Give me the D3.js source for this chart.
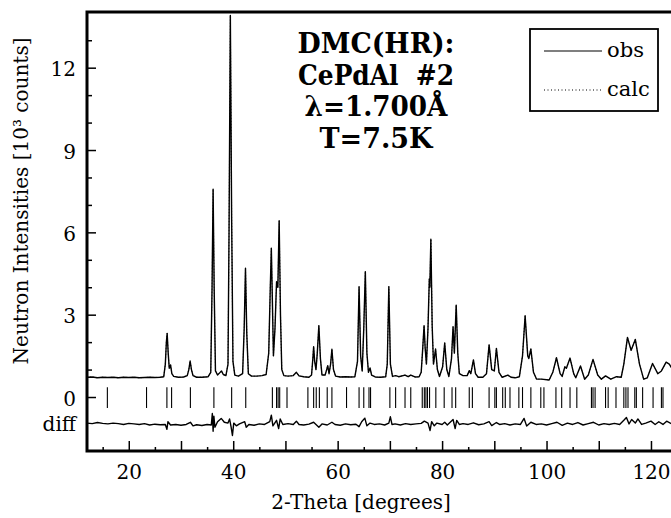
<!DOCTYPE html>
<html><head><meta charset="utf-8">
<script src="https://cdn.jsdelivr.net/npm/d3@7/dist/d3.min.js"></script>
<style>
html,body{margin:0;padding:0;background:#fff;}
svg text{font-family:"DejaVu Serif","Liberation Serif","Tinos","Times New Roman",serif;fill:#000;}
</style></head>
<body><svg id="c" width="671" height="518"></svg>
<script>
// ---- data (2-theta in degrees, intensity in 10^3 counts) ----
const obsAngle = [12,13,14,15,16,17,18,19,20,21,22,23,24,25,26,26.7,
27.0,27.2,27.35,27.55,27.75,28.0,28.25,28.6,29.5,30.5,31.2,31.5,31.75,32.0,32.3,33,34,35.2,
35.7,35.95,36.15,36.35,36.6,37.0,37.4,37.75,38.1,38.6,39.0,39.2,39.45,39.7,39.95,40.3,41.0,
41.8,42.1,42.35,42.6,42.9,43.5,44.5,45.5,46.3,46.8,47.1,47.3,47.5,47.7,48.0,48.3,48.55,48.8,49.05,49.3,49.7,
50.5,51.5,52.1,52.6,53.5,54.5,55.0,55.25,55.4,55.6,55.85,56.1,56.4,56.7,57.0,57.6,57.9,58.1,58.35,58.65,58.9,59.2,59.6,
60.5,61.5,62.5,63.3,63.8,64.1,64.4,64.7,65.0,65.3,65.6,65.9,66.2,66.5,67.2,68.2,69.2,69.5,69.8,70.1,70.5,
71.1,71.7,72.9,73.5,74.0,74.8,75.6,76.0,76.3,76.55,76.75,77.0,77.3,77.55,77.65,77.85,78.1,78.35,78.75,79.1,79.5,
80.1,80.5,80.9,81.3,81.8,82.1,82.35,82.7,83.0,83.3,84.0,84.8,85.2,85.5,86.0,86.4,86.9,87.8,88.5,89.0,89.5,90.0,90.4,90.9,
91.5,92.6,93.2,94.0,94.8,95.4,95.9,96.4,96.6,97.0,97.5,98.1,99.0,100.5,101.2,101.9,102.6,103.0,103.5,103.8,104.5,105.2,105.6,
106.5,107.3,108.0,108.9,109.8,110.5,111.3,112.3,113.4,114.3,114.8,115.5,116.2,117.0,117.8,118.6,119.3,120.3,121.3,122.0,122.9,123.5,124.5,125.5];
const obsValue = [0.72,0.73,0.70,0.72,0.71,0.72,0.70,0.72,0.71,0.72,0.70,0.71,0.72,0.71,0.72,0.74,
1.2,2.0,2.32,1.6,1.05,1.17,0.85,0.75,0.72,0.73,0.78,1.0,1.31,1.0,0.78,0.72,0.72,0.74,
0.9,4.0,7.57,4.0,0.95,0.8,0.88,0.95,0.82,0.78,1.2,6.0,13.9,6.5,1.3,0.8,0.76,
0.85,2.5,4.69,2.3,0.85,0.76,0.76,0.78,0.82,1.6,4.0,5.42,3.5,1.5,2.5,4.2,4.0,6.42,3.0,1.0,0.78,
0.76,0.78,0.9,0.77,0.74,0.72,0.8,1.4,1.83,1.3,1.0,1.6,2.6,1.4,0.8,0.8,1.0,1.14,0.85,1.2,1.74,1.0,0.76,
0.73,0.74,0.73,0.74,1.3,4.02,1.5,0.95,2.5,4.57,1.6,0.9,1.06,0.8,0.73,0.72,0.74,1.2,4.02,1.2,0.75,
0.78,0.74,0.8,0.74,0.8,0.73,0.74,0.9,1.8,2.6,1.8,1.2,2.5,4.3,4.0,5.75,2.6,1.2,1.75,1.0,0.75,
1.1,1.97,1.0,0.75,1.4,2.56,1.6,3.35,1.6,0.85,0.78,0.78,0.96,0.85,1.35,0.85,0.72,0.72,0.85,1.9,1.0,0.95,1.77,0.9,
0.72,0.8,0.72,0.7,0.74,1.5,2.96,1.5,1.4,1.75,0.9,0.65,0.65,0.62,0.9,1.43,0.85,0.75,1.1,1.05,1.42,0.85,0.7,
1.13,0.65,0.8,1.37,0.8,0.65,0.77,0.65,0.74,0.72,1.2,2.17,1.7,2.1,1.2,0.65,0.7,1.22,0.85,0.95,1.27,1.2,0.9,0.85];

const diffAngle = [12,13,14,15,16,17,18,19,20,21,22,23,24,25,26,27,27.3,27.5,28,29,30,31,31.8,32.3,33,34,35,35.8,36.0,36.15,36.3,36.5,
37.0,37.7,38.3,39.0,39.3,39.6,39.85,40.1,40.6,41.2,42.2,42.5,43,44,45,46,47.0,47.3,47.6,48.3,48.7,49.0,49.5,50.5,51.5,52.1,52.6,53.5,54.5,
55.4,56.4,57,58,58.9,59.5,60.5,61.5,62.5,63.5,64.1,64.6,65.2,65.6,66.2,67,68,69,69.8,70.1,70.4,71,72,73,74,75,76,76.6,77.3,77.7,78.0,78.5,
79,80,80.5,81,82.1,82.5,82.8,83.3,84,85,86,87,88,89,89.5,90.4,91,92,93,94,95,95.7,96.2,97,98,99,100,101,102,103,104,105,106,107,108,109,110,
111,112,113,114,114.8,115.3,115.8,116.3,117.0,117.5,118.2,119,120,120.8,121.5,122.3,123,124,125.5];
const diffValue = [-0.95,-0.97,-0.93,-0.96,-0.98,-0.95,-0.97,-1.0,-0.96,-0.98,-1.0,-0.97,-1.02,-0.99,-1.01,-1.0,-1.18,-0.9,-1.02,-1.0,-1.03,-1.0,-0.92,-1.05,-1.01,-1.04,-1.0,-1.02,-0.6,-1.25,-0.7,-1.1,
-0.9,-0.78,-0.92,-0.95,-0.8,-1.1,-1.4,-0.95,-1.05,-0.98,-0.9,-1.1,-1.0,-1.03,-0.98,-1.0,-0.9,-0.66,-1.05,-0.85,-1.15,-0.8,-1.0,-0.97,-1.0,-0.88,-1.0,-1.02,-0.99,
-0.92,-1.1,-0.98,-1.02,-0.92,-1.0,-1.03,-0.98,-1.01,-0.99,-1.08,-0.9,-0.77,-1.05,-0.95,-1.0,-0.98,-1.02,-0.95,-0.72,-1.0,-0.98,-1.02,-0.97,-1.0,-0.98,-0.96,-0.88,-0.95,-1.22,-0.9,-1.05,
-0.95,-1.0,-0.92,-1.02,-0.82,-1.15,-0.85,-1.0,-0.97,-1.0,-0.94,-1.01,-0.98,-0.9,-1.04,-0.93,-1.0,-0.97,-1.02,-0.98,-1.0,-0.78,-1.06,-0.92,-1.0,-0.98,-1.02,-0.97,-0.92,-1.03,-0.95,-1.0,-0.93,-1.02,-0.97,-0.92,-1.02,
-0.97,-1.0,-0.96,-1.0,-0.85,-0.75,-0.98,-0.82,-0.95,-0.8,-1.0,-0.95,-0.88,-1.0,-0.9,-1.0,-0.88,-0.98,-0.95];

const reflections = [15.9,23.4,27.3,28.2,31.8,36.3,39.7,42.4,47.5,48.3,48.6,48.9,50.3,54.3,55.4,55.9,56.5,58.0,58.9,61.7,
64.1,65.0,66.0,66.3,70.0,71.1,72.9,74.0,76.2,76.6,76.9,77.2,77.6,78.8,80.4,81.9,82.6,85.2,85.8,89.0,90.1,90.4,91.6,92.1,93.0,
94.7,95.4,97.0,98.9,99.5,101.8,102.9,104.5,105.8,108.6,108.9,109.3,111.3,111.8,113.3,114.8,115.2,115.6,116.9,117.2,118.4,120.4,122.0,122.3];

const yMajorTicks = [0,3,6,9,12];
const yMinorTicks = [1,2,4,5,7,8,10,11,13];
const xLabelTicks = [20,40,60,80,100,120];
const xMidTicks = [30,50,70,90,110];
const xMinorTicks = [15,25,35,45,55,65,75,85,95,105,115,125];
const titleLines = ["DMC(HR):","CePdAl  #2","\u03bb=1.700\u00c5","T=7.5K"];
const titleWidths = [157,156,143,113];
const legendItems = ["obs","calc"];

// ---- layout ----
const svg = d3.select("#c");
const L = 87, T = 12, B = 451, R = 677;
const x = d3.scaleLinear().domain([12,125]).range([L, L + 113*5.222]);
const y = d3.scaleLinear().domain([-2,14]).range([B+0.9, T+0.8]);

svg.append("rect").attr("width",671).attr("height",518).attr("fill","#fff");
svg.append("defs").append("clipPath").attr("id","clip")
  .append("rect").attr("x",L).attr("y",T).attr("width",R-L).attr("height",B-T);

function fitSize(textSel, targetW){
  const n = textSel.node();
  const base = parseFloat(textSel.attr("font-size"));
  const w = n.getComputedTextLength();
  return w > 0 ? base * targetW / w : base;
}

const yTitle = svg.append("text").attr("transform","translate(28,201) rotate(-90)").attr("text-anchor","middle")
  .attr("font-size",24).text("Neutron Intensities [10\u00b3 counts]");
const fs = Math.max(20, Math.min(25, fitSize(yTitle, 308)));
yTitle.attr("font-size",fs);

const plot = svg.append("g").attr("clip-path","url(#clip)");
const line = d3.line().x(d=>x(d[0])).y(d=>y(d[1]));

plot.append("path").datum(obsAngle.map((a,i)=>[a,obsValue[i]]))
  .attr("d",line).attr("fill","none").attr("stroke","#000").attr("stroke-width",1.4).attr("stroke-linejoin","round");
plot.append("path").datum(obsAngle.map((a,i)=>[a,obsValue[i]]))
  .attr("d",line).attr("fill","none").attr("stroke","#000").attr("stroke-width",0.8).attr("stroke-dasharray","1,2");
plot.append("path").datum(diffAngle.map((a,i)=>[a,diffValue[i]]))
  .attr("d",line).attr("fill","none").attr("stroke","#000").attr("stroke-width",1.4).attr("stroke-linejoin","round");
plot.selectAll("line.refl").data(reflections).enter().append("line")
  .attr("x1",d=>x(d)).attr("x2",d=>x(d)).attr("y1",y(0.36)).attr("y2",y(-0.4))
  .attr("stroke","#000").attr("stroke-width",1.1);

const yMaj = svg.append("g").attr("transform",`translate(${L},0)`)
  .call(d3.axisLeft(y).tickValues(yMajorTicks).tickSize(-9).tickPadding(11).tickFormat(d3.format("d")));
const yMin = svg.append("g").attr("transform",`translate(${L},0)`)
  .call(d3.axisLeft(y).tickValues(yMinorTicks).tickSize(-5).tickFormat(""));
const xLab = svg.append("g").attr("transform",`translate(0,${B})`)
  .call(d3.axisBottom(x).tickValues(xLabelTicks).tickSize(-10).tickPadding(12).tickFormat(d3.format("d")));
const xMid = svg.append("g").attr("transform",`translate(0,${B})`)
  .call(d3.axisBottom(x).tickValues(xMidTicks).tickSize(-10).tickFormat(""));
const xMin = svg.append("g").attr("transform",`translate(0,${B})`)
  .call(d3.axisBottom(x).tickValues(xMinorTicks).tickSize(-4).tickFormat(""));
[yMaj,yMin,xLab,xMid,xMin].forEach(g=>{
  g.select(".domain").remove();
  g.selectAll(".tick line").attr("stroke","#000").attr("stroke-width",1.5);
  g.selectAll("text").attr("font-size",fs).attr("font-family",null).attr("fill","#000");
});
yMaj.selectAll("text").attr("dy","0.4em");
xLab.selectAll("text").attr("dy","0.8em");

svg.append("text").attr("x",L-11).attr("y",y(-1.0)).attr("dy","0.35em").attr("text-anchor","end")
  .attr("font-size",fs).text("diff");

svg.append("path").attr("d",`M${R+20},${T}H${L}V${B}H${R+20}`)
  .attr("fill","none").attr("stroke","#000").attr("stroke-width",3);

svg.append("text").attr("x",361).attr("y",509).attr("text-anchor","middle")
  .attr("font-size",fs).text("2-Theta [degrees]");

// title block: fixed size (keeps line boxes apart), stretched to the reference widths
const tt = svg.append("g").selectAll("text").data(titleLines).enter().append("text")
  .attr("x",376).attr("y",(d,i)=>53+i*31.6).attr("text-anchor","middle")
  .attr("font-size",27.5).attr("font-weight","bold").style("white-space","pre")
  .attr("textLength",(d,i)=>titleWidths[i]).attr("lengthAdjust","spacingAndGlyphs").text(d=>d);

const lg = svg.append("g");
lg.append("rect").attr("x",530).attr("y",29).attr("width",128).attr("height",82)
  .attr("fill","#fff").attr("stroke","#000").attr("stroke-width",1.8);
lg.selectAll("line").data(legendItems).enter().append("line")
  .attr("x1",544).attr("x2",602).attr("y1",(d,i)=>51+i*39).attr("y2",(d,i)=>51+i*39)
  .attr("stroke","#000").attr("stroke-width",(d,i)=>i?1:1.2).attr("stroke-dasharray",(d,i)=>i?"1,2.5":null);
const lt = lg.selectAll("text").data(legendItems).enter().append("text")
  .attr("x",607).attr("y",(d,i)=>51+i*39).attr("dy","0.3em").attr("font-size",26).text(d=>d);
const lfs = Math.min(26, fitSize(lt.filter((d,i)=>i===0), 37));
lt.attr("font-size",lfs);
</script></body></html>
